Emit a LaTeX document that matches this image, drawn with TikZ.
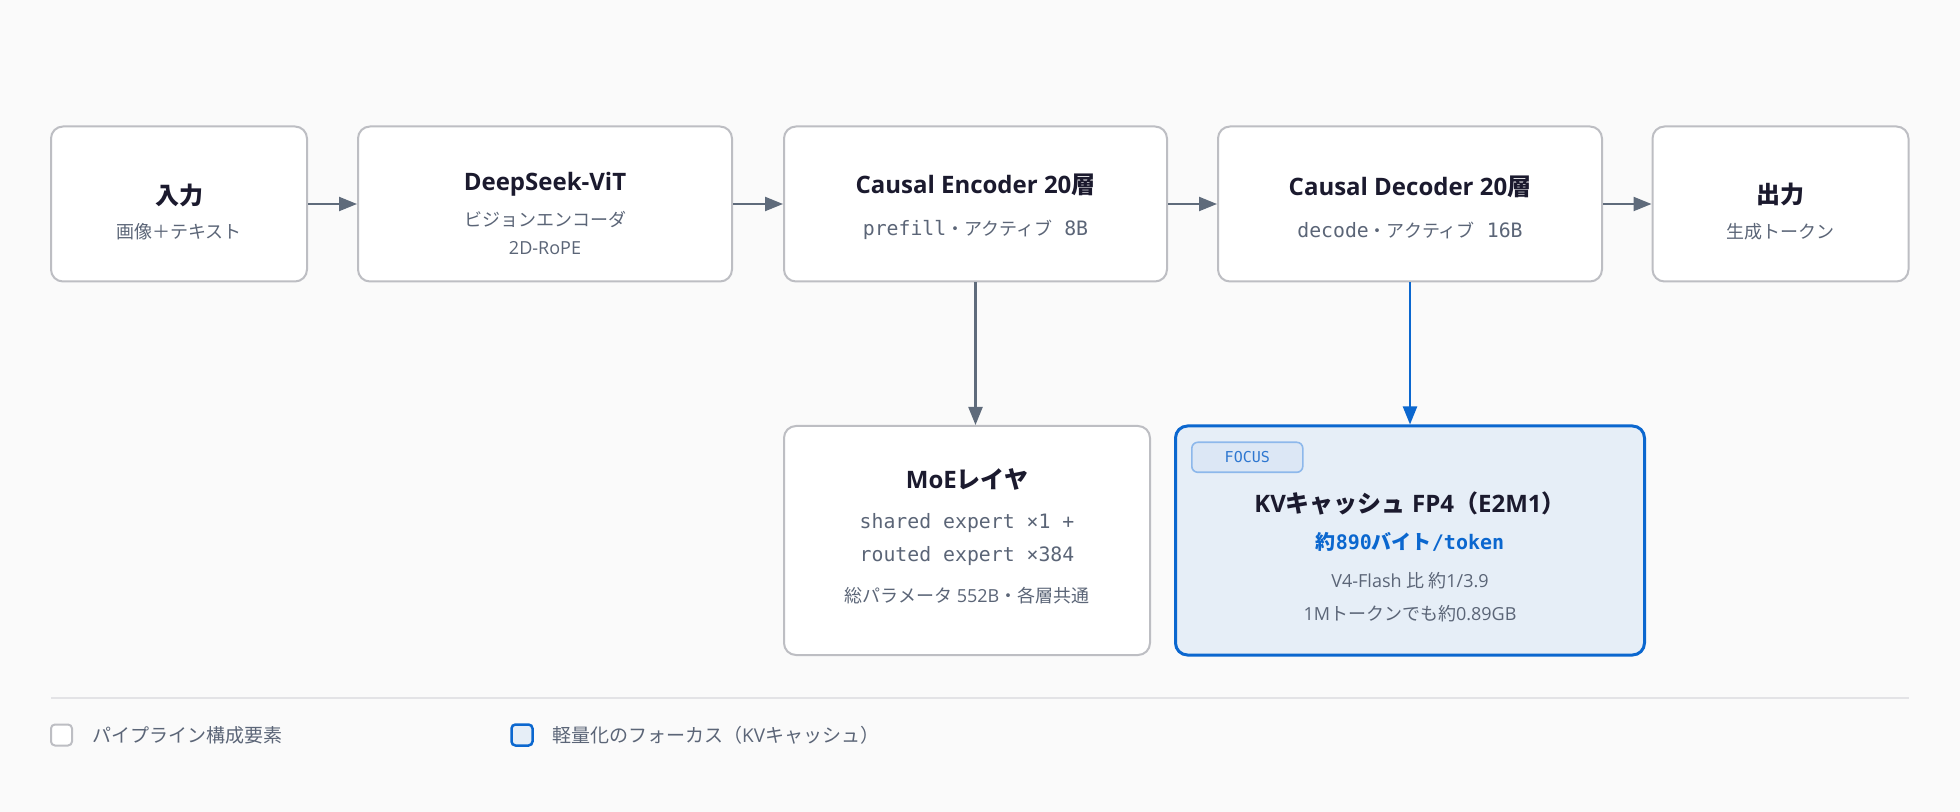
\documentclass[tikz,border=0pt]{standalone}
\usepackage{fontspec}
\setmainfont{Open Sans}
\setmonofont{DejaVu Sans Mono}
\newfontfamily\jp{Noto Sans CJK JP}
\usepackage{xcolor}
\usepackage{tikz}
\usetikzlibrary{positioning, arrows.meta}
\definecolor{bggray}{HTML}{FAFAFA}
\definecolor{boxgray}{HTML}{BDBEC3}
\definecolor{titleink}{HTML}{1B1A2E}
\definecolor{subgray}{HTML}{5B6577}
\definecolor{arrowgray}{HTML}{5F6B7B}
\definecolor{focusblue}{HTML}{0B67CF}
\definecolor{kvfill}{HTML}{E6EEF7}
\definecolor{tagfill}{HTML}{DCE7F5}
\definecolor{tagline}{HTML}{8DB8EB}
\definecolor{tagink}{HTML}{2E77D0}
\definecolor{sepgray}{HTML}{E3E3E6}
\tikzstyle{line} = [draw=arrowgray, line width=1.1pt, -{Triangle[length=9pt,width=7pt]}]
\tikzstyle{block} = [rectangle, draw=boxgray, line width=1pt, fill=white,
    rounded corners=6pt, align=center, inner sep=0pt, minimum height=77.5pt,
    text=subgray, font=\fontsize{9}{18}\selectfont]
\tikzstyle{focusblock} = [block, draw=focusblue, line width=1.5pt, fill=kvfill]
\tikzstyle{tag} = [rectangle, draw=tagline, line width=0.8pt, fill=tagfill,
    rounded corners=3pt, minimum width=55.5pt, minimum height=15pt, inner sep=0pt,
    text=tagink, font=\fontsize{7.5}{9}\selectfont\ttfamily]
\tikzstyle{legbox} = [rectangle, draw=boxgray, line width=1pt, fill=white,
    rounded corners=2pt, minimum size=10.5pt, inner sep=0pt]
\tikzstyle{legtext} = [inner sep=0pt, text=subgray, font=\fontsize{9.5}{11}\selectfont]
\newcommand{\ttl}[1]{{\fontsize{12}{18}\selectfont\bfseries\color{titleink}#1}}
\newcommand{\mono}[1]{{\fontsize{9.9}{18}\selectfont\ttfamily #1}}

\begin{document}
\begin{tikzpicture}[x=0.5pt, y=-0.5pt]
        \fill[bggray] (0,0) rectangle (1960,812);
        % Place nodes
        \node [block, minimum width=128pt] (in) at (179,204) {\rule{0pt}{18pt}\ttl{\jp 入力}\\[-0.75pt]{\jp 画像＋テキスト}};
        \node [block, right of=in, node distance=183pt, minimum width=187pt] (vit) {\rule{0pt}{19pt}\ttl{DeepSeek-ViT}\\[0pt]{\jp ビジョンエンコーダ}\\[-4pt]2D-RoPE};
        \node [block, right of=vit, node distance=215.25pt, minimum width=191.5pt] (enc) {\rule{0pt}{13pt}\ttl{Causal Encoder 20{\jp 層}}\\[3pt]\mono{prefill}{\jp ・アクティブ}\mono{ 8B}};
        \node [block, right of=enc, node distance=217.25pt, minimum width=192pt] (dec) {\rule{0pt}{13pt}\ttl{Causal Decoder 20{\jp 層}}\\[3pt]\mono{decode}{\jp ・アクティブ}\mono{ 16B}};
        \node [block, right of=dec, node distance=185.25pt, minimum width=128pt] (out) {\rule{0pt}{18pt}\ttl{\jp 出力}\\[-0.75pt]{\jp 生成トークン}};
        \node [block, below of=enc, node distance=168.25pt, xshift=-4.25pt, minimum width=183pt, minimum height=114.5pt] (moe)
            {\ttl{MoE{\jp レイヤ}}\\[2pt]\mono{shared expert ×1 +}\\[-1.5pt]\mono{routed expert ×384}\\[2.5pt]{\jp 総パラメータ} 552B{\jp ・各層共通}\rule[-5pt]{0pt}{5pt}};
        \node [focusblock, below of=dec, node distance=168.25pt, minimum width=234.5pt, minimum height=114.5pt] (kv)
            {\rule{0pt}{27pt}\ttl{KV{\jp キャッシュ} FP4{\jp （}E2M1{\jp ）}}\\[0.5pt]
             {\color{focusblue}\fontsize{10}{18}\selectfont\bfseries{\jp 約}\ttfamily 890{\jp バイト}/token}\\[1pt]
             V4-Flash {\jp 比 約}1/3.9\\[-1.5pt]1M{\jp トークンでも約}0.89GB};
        \node [tag, below right=8.5pt and 8.5pt of kv.north west, anchor=north west] (focustag) {FOCUS};
        % Draw edges
        \path [line] (in) -- (vit);
        \path [line] (vit) -- (enc);
        \path [line] (enc) -- (dec);
        \path [line] (dec) -- (out);
        \path [line] (enc.south) -- (enc.south |- moe.north);
        \path [line, draw=focusblue] (dec) -- (kv);
        % Legend
        \draw [sepgray, line width=1pt] (51,698) -- (1909,698);
        \node [legbox] (pipebox) at (61.5,735) {};
        \node [legtext, right=9.5pt of pipebox] (pipetext) {\jp パイプライン構成要素};
        \node [legbox, draw=focusblue, fill=kvfill, line width=1.25pt] (focusbox) at (522,735) {};
        \node [legtext, right=9pt of focusbox] (focustext) {{\jp 軽量化のフォーカス（}KV{\jp キャッシュ）}};
      \end{tikzpicture}
\end{document}
